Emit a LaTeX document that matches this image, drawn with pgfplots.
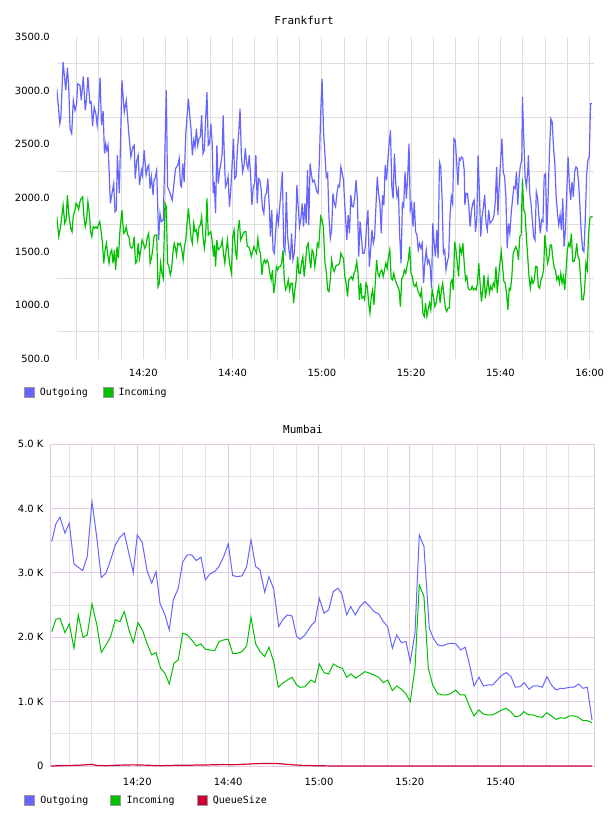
\documentclass[border=0pt]{standalone}
\usepackage{fontspec}
\setmainfont{DejaVu Sans}
\newfontfamily\monofont{DejaVu Sans Mono}
\usepackage{pgfplots}
\pgfplotsset{compat=1.18}
\definecolor{outc}{RGB}{102,102,255}
\definecolor{inc}{RGB}{0,192,0}
\definecolor{qc}{RGB}{204,0,51}
\definecolor{gridg}{RGB}{221,221,221}
\definecolor{gridp}{RGB}{226,202,226}
\definecolor{gridm}{RGB}{230,226,230}
\pgfplotsset{
  legimg/.style={legend image code/.code={\filldraw[##1, draw=gray!80, line width=0.8bp] (0bp,-5bp) rectangle (10bp,5bp);}},
}
\begin{document}
\begin{tikzpicture}
\useasboundingbox (0,0) rectangle (608bp,816bp);
% ---------------- Frankfurt ----------------
\begin{axis}[
  at={(57bp,457.3bp)}, anchor=south west, scale only axis,
  width=537bp, height=321.7bp,
  xmin=0.67, xmax=120.96, ymin=500, ymax=3500,
  axis line style={draw=none},
  major tick length=0pt, minor tick length=0pt,
  xtick={20,40,60,80,100,120}, xticklabels={14:20,14:40,15:00,15:20,15:40,16:00},
  minor xtick={5,10,...,120},
  ytick={500,1000,...,3500}, yticklabels={500.0,1000.0,1500.0,2000.0,2500.0,3000.0,3500.0},
  minor ytick={750,1250,...,3250},
  xmajorgrids, xminorgrids, yminorgrids, ymajorgrids=false,
  major grid style={gridg, line width=0.9bp},
  minor grid style={gridg, line width=0.9bp},
  yticklabel style={font=\fontsize{10}{12}\selectfont, anchor=east, inner sep=0pt, xshift=-7bp},
  xticklabel style={font=\fontsize{10}{12}\selectfont, anchor=north, inner sep=0pt, yshift=-10bp},
  title={\monofont Frankfurt},
  every axis title/.style={at={(0.46,1.0507)}, anchor=center, inner sep=0pt, font=\fontsize{11}{13}\selectfont},
  legend columns=-1, legimg,
  legend style={at={(-0.0615,-0.1035)}, anchor=west, draw=none, fill=none, inner sep=0pt, outer sep=0pt,
    font=\monofont\fontsize{10}{12}\selectfont, nodes={inner sep=0pt},
    /tikz/every odd column/.append style={column sep=5bp},
    /tikz/every even column/.append style={column sep=15bp}},
]
\addplot[outc, line width=1.2bp] coordinates {
(0.63,3017)(1.30,2692)(1.52,2738)(2.04,3265)(2.63,3002)(3.00,3213)(3.30,3033)(3.59,2645)(3.96,2599)(4.33,2909)
(4.70,2816)(5.07,2878)(5.30,3064)(5.81,3049)(6.11,2909)(6.56,3132)(7.00,2816)(7.22,2893)(7.59,3126)(8.04,2884)
(8.33,2893)(8.63,2667)(9.00,2847)(9.37,2785)(9.67,2677)(9.96,2816)(10.33,3120)(10.63,2677)(11.00,2810)(11.30,2413)
(11.59,2506)(11.81,2444)(12.11,2490)(12.63,1948)(12.93,2026)(13.37,2134)(13.67,1870)(13.96,1886)(14.19,2397)(14.63,2041)
(15.22,3095)(15.74,2800)(16.19,2909)(16.70,2630)(17.22,2382)(17.67,2475)(17.96,2490)(18.19,2180)(18.56,2351)(18.85,2397)
(19.15,2119)(19.59,2258)(19.81,2212)(20.19,2444)(20.63,2212)(21.00,2289)(21.22,2305)(21.52,2087)(21.81,2196)(22.19,2026)
(22.41,2165)(22.63,2180)(23.00,2258)(23.44,1607)(23.74,1855)(24.04,1778)(24.48,1793)(24.85,2444)(25.15,3002)(25.44,2103)
(25.89,2057)(26.48,1979)(27.22,2273)(27.74,2305)(28.04,2367)(28.33,2119)(28.56,2103)(28.85,2320)(29.15,2150)(29.52,2599)
(30.10,2925)(30.70,2630)(31.00,2397)(31.30,2537)(31.59,2475)(31.89,2645)(32.19,2490)(32.48,2552)(32.78,2568)(33.07,2770)
(33.37,2413)(33.67,2444)(33.96,2723)(34.26,2986)(34.56,2490)(34.85,2506)(35.15,2692)(35.44,2506)(35.67,2041)(35.89,2150)
(36.19,1855)(36.48,2490)(36.78,2134)(37.07,2242)(37.37,2320)(37.67,2413)(37.89,2770)(38.11,2444)(38.41,2103)(38.70,2134)
(39.00,2196)(39.30,1917)(39.59,2072)(39.89,2304)(40.19,2552)(40.48,2180)(40.78,2196)(41.07,2444)(41.37,2599)(41.67,2831)
(41.96,2413)(42.26,2242)(42.56,2304)(42.85,2460)(43.15,2320)(43.44,2273)(43.74,2397)(44.04,2211)(44.33,1932)(44.63,2103)
(44.93,2134)(45.22,2397)(45.52,1948)(45.81,2180)(46.11,2165)(46.41,2072)(46.70,1901)(47.00,1855)(47.30,2025)(47.59,2041)
(47.89,2180)(48.19,1948)(48.48,1638)(48.78,1886)(49.07,1514)(49.37,1483)(49.67,1700)(49.96,1855)(50.26,1762)(50.56,1917)
(50.85,2072)(51.15,2242)(51.44,1545)(51.74,1498)(52.04,2056)(52.33,1638)(52.63,1514)(52.93,1421)(53.22,1669)(53.52,1421)
(53.81,1483)(54.11,1684)(54.41,2118)(54.70,1917)(55.00,1731)(55.30,1808)(55.59,1948)(55.89,1731)(56.19,1948)(56.48,1762)
(56.78,2258)(57.07,1746)(57.37,2320)(57.67,2211)(57.96,2150)(58.26,2165)(58.56,2118)(58.85,2056)(59.15,2041)(59.44,2351)
(59.74,2785)(60.04,3110)(60.40,2600)(61.00,2196)(61.30,2227)(61.59,1824)(61.89,1622)(62.19,1700)(62.48,2041)(62.78,1948)
(63.07,1917)(63.37,2041)(63.67,2118)(63.96,2103)(64.26,2289)(64.56,2227)(64.85,2165)(65.15,1917)(65.59,1607)(65.89,1840)
(66.19,1669)(66.48,2025)(66.78,1917)(67.07,1917)(67.37,2010)(67.67,2165)(67.96,1979)(68.26,1452)(68.56,1778)(68.85,1638)
(69.15,1483)(69.44,1483)(69.74,1545)(70.04,1762)(70.33,1886)(70.63,1359)(70.93,1514)(71.22,1700)(71.52,1576)(71.81,1638)
(72.11,1917)(72.41,2196)(72.70,2041)(73.00,1948)(73.30,1669)(73.59,2025)(73.89,1932)(74.19,2305)(74.48,2165)(74.78,2351)
(75.07,2506)(75.37,2630)(75.67,2103)(75.96,1994)(76.26,2413)(76.56,2134)(76.85,2010)(77.15,2072)(77.44,1638)(77.74,1390)
(78.04,1948)(78.33,1917)(78.63,2242)(78.93,1994)(79.22,2196)(79.52,2506)(79.81,1886)(80.11,1948)(80.41,1731)(80.70,1963)
(81.00,1684)(81.30,1654)(81.59,1514)(81.89,1576)(82.19,1530)(82.48,1576)(82.78,1204)(83.07,1390)(83.37,1514)(83.67,1390)
(83.96,1421)(84.26,1359)(84.56,1157)(84.85,1762)(85.15,1576)(85.44,1452)(85.74,1700)(86.04,1436)(86.33,2336)(86.63,2289)
(86.93,1994)(87.22,1483)(87.52,1514)(87.81,1328)(88.11,1405)(88.41,1452)(88.70,1824)(89.00,2010)(89.30,1948)(89.59,2552)
(89.89,2537)(90.19,2336)(90.48,2118)(90.78,2367)(91.00,2351)(91.30,2382)(91.59,2366)(91.89,2258)(92.04,1932)(92.33,2041)
(92.63,2041)(92.93,1917)(93.22,1731)(93.52,1886)(93.81,1948)(94.11,1979)(94.41,1684)(94.70,1793)(95.00,2397)(95.30,2041)
(95.59,1638)(95.89,1824)(96.19,1917)(96.48,2025)(96.78,1762)(97.07,1700)(97.37,1886)(97.67,1762)(97.96,1778)(98.26,1793)
(98.56,1840)(98.85,1963)(99.15,2289)(99.44,1840)(99.74,2134)(100.04,2351)(100.33,2552)(100.63,2242)(100.93,2196)(101.22,2010)
(101.52,1530)(101.81,1762)(102.11,1669)(102.41,1855)(102.70,1979)(103.00,2103)(103.30,2087)(103.59,2242)(103.89,1932)(104.19,2196)
(104.48,2304)(104.78,2351)(104.93,2940)(105.22,2568)(105.52,2196)(105.81,2103)(106.11,2242)(106.26,2397)(106.56,2041)(106.85,1948)
(107.15,1793)(107.44,1638)(107.74,1607)(108.04,2056)(108.33,1994)(108.63,1824)(108.93,1669)(109.22,1793)(109.52,1778)(109.81,2211)
(110.11,2227)(110.41,1684)(110.70,2041)(111.00,2444)(111.30,2738)(111.59,2707)(111.89,2475)(112.19,2320)(112.48,2010)(112.78,1855)
(113.07,1746)(113.37,1840)(113.67,1700)(113.96,1994)(114.26,1545)(114.56,1700)(114.85,2041)(115.15,2382)(115.44,2134)(115.74,1979)
(116.04,2150)(116.33,2010)(116.63,2242)(116.93,2289)(117.22,2273)(117.52,2134)(117.81,1917)(118.11,1669)(118.41,1514)(118.70,1498)
(119.00,1793)(119.30,2211)(119.59,2351)(119.89,2382)(120.19,2878)(120.48,2878)
};
\addlegendentry{Outgoing}
\addplot[inc, line width=1.2bp] coordinates {
(0.63,1824)(1.07,1638)(1.52,1746)(2.04,1932)(2.41,1762)(2.70,1793)(3.00,2025)(3.37,1824)(3.74,1715)(4.04,1684)
(4.33,1839)(4.63,1870)(4.93,1948)(5.22,1932)(5.52,1892)(5.81,1963)(6.11,1994)(6.41,2010)(6.70,1824)(7.00,1731)
(7.30,1793)(7.59,1963)(7.89,1870)(8.19,1684)(8.48,1638)(8.78,1731)(9.07,1715)(9.37,1731)(9.67,1715)(9.96,1746)
(10.26,1778)(10.56,1684)(10.85,1576)(11.15,1390)(11.44,1514)(11.74,1576)(12.04,1467)(12.33,1390)(12.63,1483)(12.93,1514)
(13.22,1390)(13.52,1514)(13.81,1328)(14.11,1545)(14.41,1436)(14.78,1700)(15.22,1886)(15.59,1669)(15.89,1684)(16.19,1731)
(16.48,1654)(16.78,1638)(17.07,1545)(17.37,1530)(17.67,1545)(17.96,1638)(18.26,1390)(18.56,1405)(18.85,1576)(19.15,1436)
(19.44,1514)(19.74,1607)(20.04,1576)(20.33,1530)(20.63,1560)(20.93,1638)(21.22,1669)(21.52,1390)(21.81,1436)(22.11,1514)
(22.41,1638)(22.70,1654)(23.00,1654)(23.30,1173)(23.59,1204)(23.89,1390)(24.19,1297)(24.48,1250)(24.85,1948)(25.15,1917)
(25.44,1390)(25.74,1359)(26.04,1282)(26.33,1328)(26.63,1483)(26.93,1576)(27.22,1530)(27.44,1467)(27.74,1576)(28.04,1560)
(28.33,1576)(28.63,1514)(28.93,1421)(29.22,1545)(29.52,1607)(29.81,1762)(30.11,1901)(30.70,1622)(31.00,1576)(31.30,1762)
(31.59,1684)(31.89,1700)(32.19,1607)(32.48,1731)(32.78,1746)(33.07,1824)(33.37,1638)(33.67,1530)(33.96,1638)(34.26,1994)
(34.56,1654)(34.85,1669)(35.15,1684)(35.44,1592)(35.74,1452)(35.96,1560)(36.19,1359)(36.48,1607)(36.78,1514)(37.07,1530)
(37.37,1545)(37.67,1607)(37.96,1483)(38.26,1390)(38.56,1514)(38.85,1607)(39.15,1452)(39.44,1359)(39.74,1297)(40.04,1638)
(40.33,1700)(40.63,1514)(40.93,1421)(41.22,1700)(41.52,1793)(41.81,1607)(42.11,1638)(42.41,1669)(42.70,1684)(43.00,1684)
(43.30,1545)(43.59,1545)(43.89,1514)(44.19,1452)(44.48,1498)(44.78,1545)(45.07,1514)(45.37,1483)(45.67,1622)(45.96,1514)
(46.26,1483)(46.56,1281)(46.85,1390)(47.15,1421)(47.44,1390)(47.74,1421)(48.04,1390)(48.33,1297)(48.63,1235)(48.93,1328)
(49.22,1111)(49.52,1204)(49.81,1359)(50.11,1328)(50.41,1359)(50.70,1359)(51.00,1390)(51.30,1514)(51.59,1235)(51.89,1142)
(52.19,1173)(52.48,1235)(52.78,1142)(53.07,1204)(53.37,1204)(53.67,1018)(53.96,1142)(54.26,1235)(54.56,1452)(54.85,1297)
(55.15,1297)(55.44,1390)(55.74,1452)(56.04,1266)(56.33,1390)(56.63,1545)(56.93,1576)(57.22,1452)(57.52,1343)(57.81,1514)
(58.11,1483)(58.41,1359)(58.70,1452)(59.00,1576)(59.30,1545)(59.74,1824)(60.04,1793)(60.33,1731)(60.70,1390)(61.00,1312)
(61.30,1142)(61.59,1126)(61.89,1235)(62.19,1421)(62.48,1343)(62.78,1312)(63.07,1359)(63.37,1374)(63.67,1374)(63.96,1390)
(64.26,1483)(64.56,1452)(64.85,1436)(65.15,1266)(65.44,1204)(65.74,1080)(66.04,1235)(66.33,1250)(66.63,1266)(66.93,1235)
(67.22,1297)(67.52,1328)(67.81,1405)(68.11,1297)(68.41,1049)(68.70,1204)(69.00,1064)(69.30,1080)(69.59,1049)(69.89,1204)
(70.19,1173)(70.48,1018)(70.78,925)(71.07,1080)(71.37,1142)(71.67,1002)(71.96,1204)(72.26,1421)(72.56,1297)(72.85,1266)
(73.15,1312)(73.44,1328)(73.74,1266)(74.04,1328)(74.33,1390)(74.63,1343)(74.93,1452)(75.22,1514)(75.52,1250)(75.81,1235)
(76.11,1297)(76.41,1235)(76.70,1204)(77.00,1173)(77.30,1142)(77.59,987)(77.89,1250)(78.19,1266)(78.48,1328)(78.78,1297)
(79.07,1359)(79.37,1421)(79.67,1545)(79.96,1297)(80.26,1266)(80.56,1188)(80.85,1173)(81.15,1204)(81.44,1142)(81.74,1111)
(82.04,1080)(82.33,1142)(82.63,925)(82.93,894)(83.22,1018)(83.52,894)(83.81,956)(84.11,1018)(84.41,956)(84.70,1142)
(85.00,1080)(85.30,987)(85.59,1018)(85.89,1111)(86.19,1173)(86.48,1018)(86.78,1142)(87.07,1204)(87.37,1080)(87.67,972)
(87.96,940)(88.26,972)(88.56,972)(88.85,1204)(89.15,1235)(89.44,1142)(89.74,1592)(90.04,1514)(90.33,1390)(90.63,1266)
(90.93,1545)(91.30,1483)(91.59,1576)(91.89,1390)(92.19,1235)(92.48,1266)(92.78,1157)(93.07,1142)(93.37,1142)(93.67,1173)
(93.96,1142)(94.26,1157)(94.56,1142)(94.85,1204)(95.15,1390)(95.44,1204)(95.74,1033)(96.04,1142)(96.33,1281)(96.63,1064)
(96.93,1157)(97.22,1250)(97.52,1111)(97.81,1173)(98.11,1142)(98.41,1204)(98.70,1173)(99.00,1359)(99.30,1111)(99.59,1266)
(99.89,1390)(100.19,1498)(100.48,1359)(100.78,1219)(101.07,1204)(101.37,1111)(101.67,956)(101.96,1157)(102.26,1142)(102.56,1266)
(102.85,1483)(103.15,1514)(103.44,1545)(103.74,1514)(104.04,1421)(104.33,1638)(104.63,1654)(104.93,2180)(105.22,1886)(105.52,1855)
(105.81,1638)(106.11,1452)(106.41,1266)(106.70,1157)(107.00,1250)(107.30,1204)(107.59,1235)(107.89,1359)(108.19,1359)(108.48,1173)
(108.78,1157)(109.07,1235)(109.37,1266)(109.67,1328)(109.96,1654)(110.26,1514)(110.56,1390)(110.85,1436)(111.15,1560)(111.44,1560)
(111.74,1436)(112.04,1343)(112.33,1328)(112.63,1235)(112.93,1266)(113.22,1204)(113.52,1297)(113.81,1204)(114.11,1266)(114.41,1142)
(114.70,1328)(115.00,1514)(115.30,1576)(115.59,1545)(115.89,1669)(116.19,1405)(116.48,1405)(116.78,1452)(117.07,1576)(117.37,1452)
(117.67,1421)(117.96,1235)(118.26,1049)(118.56,1049)(118.85,1142)(119.15,1390)(119.44,1328)(119.74,1669)(120.04,1808)(120.33,1824)
(120.63,1824)
};
\addlegendentry{Incoming}
\end{axis}
% ---------------- Mumbai ----------------
\begin{axis}[
  at={(50.7bp,50bp)}, anchor=south west, scale only axis,
  width=543.3bp, height=321.7bp,
  xmin=0.94, xmax=120.54, ymin=0, ymax=5000,
  axis line style={gridp, line width=1bp},
  major tick length=0pt, minor tick length=0pt,
  xtick={20,40,60,80,100}, xticklabels={14:20,14:40,15:00,15:20,15:40},
  minor xtick={5,10,15,25,30,35,45,50,55,65,70,75,85,90,95,105,110,115},
  ytick={0,1000,...,5000}, yticklabels={0,1.0 K,2.0 K,3.0 K,4.0 K,5.0 K},
  minor ytick={500,1500,2500,3500,4500},
  xmajorgrids, xminorgrids, ymajorgrids, yminorgrids,
  major grid style={gridp, line width=1bp},
  minor grid style={gridm, line width=1bp},
  yticklabel style={font=\fontsize{10}{12}\selectfont, anchor=east, inner sep=0pt, xshift=-7bp},
  xticklabel style={font=\fontsize{10}{12}\selectfont, anchor=north, inner sep=0pt, yshift=-12bp},
  title={\monofont Mumbai},
  every axis title/.style={at={(0.4644,1.0476)}, anchor=center, inner sep=0pt, font=\fontsize{11}{13}\selectfont},
  legend columns=-1, legimg,
  legend style={at={(-0.0491,-0.1057)}, anchor=west, draw=none, fill=none, inner sep=0pt, outer sep=0pt,
    font=\monofont\fontsize{10}{12}\selectfont, nodes={inner sep=0pt},
    /tikz/every odd column/.append style={column sep=5.5bp},
    /tikz/every even column/.append style={column sep=22bp}},
]
\addplot[outc, line width=1bp] coordinates {
(1.16,3488)(2.10,3764)(2.98,3868)(4.08,3619)(5.03,3774)(6.06,3141)(7.00,3090)(7.98,3038)(8.99,3255)(10.03,4110)
(11.06,3566)(12.07,2929)(13.11,2997)(14.14,3204)(15.16,3437)(16.19,3557)(17.14,3619)(18.17,3297)(19.12,3007)(20.00,3593)
(21.10,3473)(22.14,3038)(23.17,2841)(24.12,3022)(25.00,2530)(26.10,2348)(27.04,2115)(27.93,2582)(29.03,2763)(29.99,3168)
(31.00,3281)(31.98,3281)(32.99,3193)(34.02,3246)(34.97,2893)(36.00,2986)(37.04,3022)(37.99,3100)(39.02,3255)(40.03,3453)
(41.00,2960)(42.01,2944)(43.05,2955)(44.08,3100)(45.03,3515)(46.06,3100)(47.01,3048)(48.05,2701)(48.99,2944)(50.03,2748)
(51.13,2166)(52.01,2271)(53.02,2348)(54.06,2333)(55.09,2011)(55.82,1970)(56.92,2037)(57.60,2110)(58.39,2193)(59.12,2244)
(60.07,2608)(61.10,2375)(62.14,2426)(63.15,2711)(64.12,2763)(65.00,2685)(66.10,2348)(66.98,2478)(67.99,2348)(69.03,2478)
(70.13,2555)(71.07,2488)(72.11,2400)(73.14,2364)(74.16,2244)(75.12,2166)(76.14,1830)(77.11,2037)(78.12,1918)(79.15,1933)
(80.10,1622)(81.13,2064)(82.08,3593)(83.11,3411)(84.28,2141)(85.16,1986)(86.13,1882)(87.14,1866)(88.18,1897)(89.21,1908)
(90.16,1897)(91.19,1804)(92.21,1846)(93.24,1544)(94.12,1244)(95.22,1379)(96.17,1244)(97.21,1260)(98.24,1260)(99.25,1337)
(100.29,1415)(101.23,1451)(102.27,1389)(103.21,1224)(104.25,1233)(105.20,1296)(106.23,1193)(107.18,1244)(108.21,1244)(109.16,1224)
(110.19,1389)(111.14,1260)(112.17,1182)(113.21,1208)(114.16,1208)(115.19,1224)(116.14,1224)(117.17,1275)(118.12,1208)(119.07,1224)
(120.10,715)
};
\addlegendentry{Outgoing}
\addplot[inc, line width=1bp] coordinates {
(1.16,2089)(2.10,2281)(2.98,2297)(4.08,2073)(5.03,2208)(6.06,1830)(7.01,2348)(8.05,2001)(8.99,2037)(10.03,2519)
(11.06,2208)(12.07,1763)(13.11,1882)(14.14,2011)(15.16,2271)(16.19,2244)(17.14,2400)(18.17,2115)(19.12,1918)(20.15,2229)
(21.19,2104)(22.14,1908)(23.17,1726)(24.12,1763)(25.15,1519)(26.10,1441)(27.04,1275)(28.08,1597)(29.03,1649)(29.99,2064)
(31.00,2037)(31.98,1960)(32.99,1866)(34.02,1897)(34.97,1815)(36.00,1804)(37.04,1793)(37.99,1933)(39.02,1960)(40.03,1970)
(41.00,1752)(42.01,1752)(43.05,1778)(44.08,1866)(45.03,2312)(46.06,1897)(47.01,1778)(48.05,1700)(48.99,1846)(50.03,1622)
(51.04,1224)(52.01,1286)(53.02,1337)(54.06,1379)(55.09,1260)(55.82,1224)(56.90,1230)(58.24,1337)(59.12,1296)(60.07,1586)
(61.10,1451)(62.14,1431)(63.15,1586)(64.12,1544)(65.13,1519)(66.10,1379)(67.05,1431)(68.08,1364)(69.09,1415)(70.13,1467)
(71.16,1441)(72.11,1415)(73.14,1379)(74.16,1296)(75.12,1337)(76.14,1171)(77.11,1244)(78.12,1193)(79.15,1120)(80.10,1000)
(81.13,1519)(82.08,2815)(83.11,2633)(84.06,1519)(85.03,1260)(86.04,1131)(87.08,1104)(88.11,1104)(89.13,1131)(90.09,1182)
(91.11,1104)(92.14,1104)(93.09,933)(94.12,778)(95.16,871)(96.17,809)(97.21,793)(98.15,793)(99.19,829)(100.22,871)
(101.17,897)(102.20,845)(103.15,767)(104.18,778)(105.13,845)(106.16,793)(107.18,793)(108.15,767)(109.16,757)(110.13,829)
(111.14,778)(112.17,726)(113.12,751)(114.16,741)(115.10,778)(116.14,778)(117.08,757)(118.12,705)(119.07,705)(120.10,674)
};
\addlegendentry{Incoming}
\addplot[qc, line width=1.2bp] coordinates {
(1,0)(3,5)(5,8)(7,12)(9,20)(10,25)(11,10)(13,5)(15,10)(17,15)(19,18)(21,15)(23,10)(25,5)(27,8)(29,12)(31,10)
(33,15)(35,15)(37,20)(39,22)(41,20)(43,25)(45,32)(47,38)(49,40)(51,38)(53,25)(55,15)(57,8)(59,5)(61,3)(63,0)
(70,0)(80,0)(90,0)(100,0)(110,0)(120.1,0)
};
\addlegendentry{QueueSize}
\end{axis}
\end{tikzpicture}
\end{document}
